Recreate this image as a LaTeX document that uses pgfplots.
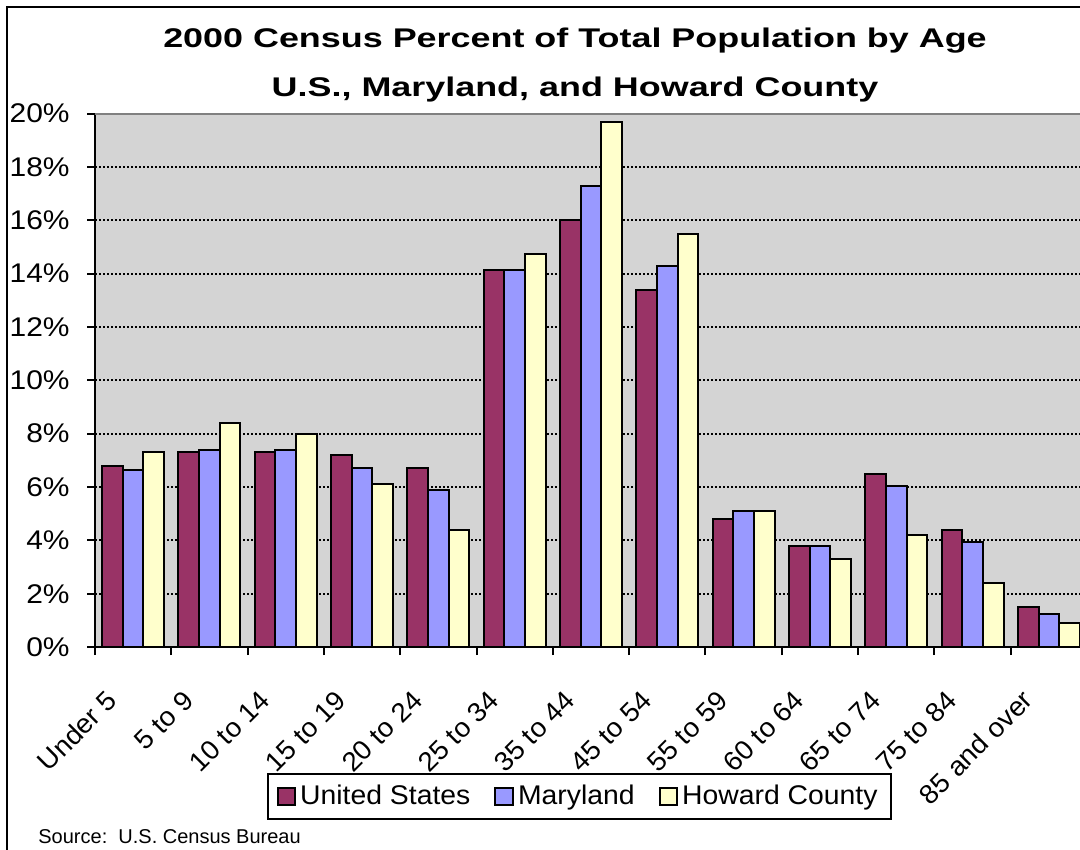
\documentclass[border=0pt]{standalone}
\usepackage{pgfplots}
\pgfplotsset{compat=1.18}
\usepackage{fontspec}
\setmainfont{Liberation Sans}
\newfontfamily\titlefont{Liberation Sans}[FakeStretch=1.33]
\newfontfamily\xtickfont{Liberation Sans}[FakeStretch=1.03]
\newfontfamily\ytickfont{Liberation Sans}[FakeStretch=1.11]
\newfontfamily\legfont{Liberation Sans}[FakeStretch=1.05]
\definecolor{usc}{HTML}{993366}
\definecolor{mdc}{HTML}{9999FF}
\definecolor{hcc}{HTML}{FFFFCC}
\definecolor{plotbg}{HTML}{D4D4D4}
\pgfplotsset{sqlegend/.style={legend image code/.code={\draw[##1,line width=1pt] (0pt,-4.4pt) rectangle (8.8pt,4.4pt);}}}
\begin{document}
\begin{tikzpicture}
\begin{axis}[
  at={(47.5pt,-323.5pt)}, anchor=south west,
  scale only axis, width=496pt, height=266.75pt,
  xmin=-0.5, xmax=12.5, ymin=0, ymax=20,
  axis x line*=bottom, axis y line*=left,
  axis line style={line width=1pt, black, -},
  axis background/.style={fill=plotbg},
  font=\fontsize{13.5}{16}\selectfont,
  /pgf/number format/assume math mode=true,
  ytick={0,2,...,20},
  yticklabel={\pgfmathprintnumber{\tick}\%},
  yticklabel style={anchor=east, inner sep=0pt, xshift=-8.5pt, font=\ytickfont\fontsize{13.5}{16}\selectfont},
  xtick={0,...,12},
  xticklabels={Under 5,5 to 9,10 to 14,15 to 19,20 to 24,25 to 34,35 to 44,45 to 54,55 to 59,60 to 64,65 to 74,75 to 84,85 and over},
  xticklabel style={xshift=-7pt, yshift=-23.5pt, rotate=45, anchor=base east, inner sep=0pt, font=\xtickfont\fontsize{13.5}{16}\selectfont},
  minor xtick={-0.5,0.5,...,12.5},
  major x tick style={draw=none},
  minor x tick style={black, line width=1pt},
  y tick style={black, line width=1pt},
  tick align=outside,
  major tick length=4pt, minor tick length=4pt,
  ymajorgrids,
  grid style={black, line width=1pt, dash pattern=on 1pt off 1pt},
  ybar=0pt, bar width=0.271,
  legend style={at={(0.488,-0.236)}, anchor=north, legend columns=-1, draw=black, line width=1pt,
    inner ysep=3.75pt, inner xsep=4.5pt,
    font=\legfont\fontsize{13.5}{16}\selectfont,
    /tikz/every even column/.append style={column sep=10pt}},
]
\addplot[draw=black, line width=1pt, fill=usc, bar shift=-0.271, sqlegend] coordinates {
(0,6.8) (1,7.3) (2,7.3) (3,7.2) (4,6.7) (5,14.15) (6,16.0) (7,13.4) (8,4.8) (9,3.8) (10,6.5) (11,4.4) (12,1.5)};
\addplot[draw=black, line width=1pt, fill=mdc, bar shift=0, sqlegend] coordinates {
(0,6.65) (1,7.4) (2,7.4) (3,6.7) (4,5.9) (5,14.15) (6,17.3) (7,14.3) (8,5.1) (9,3.8) (10,6.05) (11,3.95) (12,1.25)};
\addplot[draw=black, line width=1pt, fill=hcc, bar shift=0.271, sqlegend] coordinates {
(0,7.3) (1,8.4) (2,8.0) (3,6.1) (4,4.4) (5,14.75) (6,19.7) (7,15.5) (8,5.1) (9,3.3) (10,4.2) (11,2.4) (12,0.9)};
\legend{United States, Maryland, Howard County}
\draw[color=black!50, line width=1pt] (rel axis cs:0,1) -- (rel axis cs:1,1) -- (rel axis cs:1,0);
\end{axis}
\draw[line width=1pt] (3.5pt,-600pt) -- (3.5pt,-3.5pt) -- (600pt,-3.5pt);
\node[anchor=base, font=\titlefont\fontsize{13.5}{16}\selectfont\bfseries, inner sep=0pt] at (287.5pt,-23.85pt) {2000 Census Percent of Total Population by Age};
\node[anchor=base, font=\titlefont\fontsize{13.5}{16}\selectfont\bfseries, inner sep=0pt] at (287.5pt,-48.5pt) {U.S., Maryland, and Howard County};
\node[anchor=base west, font=\fontsize{10}{12}\selectfont, inner sep=0pt] at (19pt,-421.5pt) {Source:\ \ U.S. Census Bureau};
\pgfresetboundingbox
\path[use as bounding box] (0pt,0pt) rectangle (540pt,-425pt);
\end{tikzpicture}
\end{document}
